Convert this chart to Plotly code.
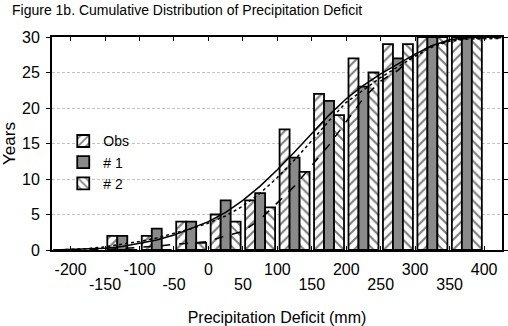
import plotly.graph_objects as go

# ---- data ----
bin_centers = [-125, -75, -25, 25, 75, 125, 175, 225, 275, 325, 375]
obs = [2, 2, 4, 5, 7, 17, 22, 27, 29, 30, 30]
sim1 = [2, 3, 4, 7, 8, 13, 21, 23, 27, 30, 30]
sim2 = [0, 0, 1, 4, 6, 11, 19, 25, 29, 30, 30]

curve_x = [-225, -200, -175, -150, -125, -100, -75, -50, -25, 0, 25, 50, 75, 100,
           125, 150, 175, 200, 225, 250, 275, 300, 325, 350, 375, 400, 425]
curve_solid = [0, 0.05, 0.1, 0.25, 0.5, 0.9, 1.4, 2.1, 3.0, 4.0, 5.3, 7.0, 9.0, 11.3,
               13.8, 16.4, 19.0, 21.3, 23.2, 24.8, 26.2, 27.6, 28.8, 29.6, 29.9, 30, 30]
curve_dot = [0, 0.1, 0.2, 0.45, 0.8, 1.2, 1.7, 2.3, 3.0, 3.8, 4.8, 6.2, 8.0, 10.2,
             12.7, 15.4, 18.2, 20.8, 22.6, 24.3, 25.8, 27.3, 28.6, 29.4, 29.7, 29.8, 29.8]
curve_dash = [0, 0, 0.05, 0.1, 0.2, 0.35, 0.55, 0.8, 1.0, 1.2, 2.0, 2.6, 4.3, 6.6,
              9.0, 11.9, 14.8, 18.1, 21.4, 23.8, 25.3, 27.6, 28.8, 29.5, 29.8, 29.9, 29.9]

major_ticks = [-200, -100, 0, 100, 200, 300, 400]
minor_ticks = [-150, -50, 50, 150, 250, 350]
all_ticks = [-200, -150, -100, -50, 0, 50, 100, 150, 200, 250, 300, 350, 400]

FONT = "Liberation Sans, Arial, sans-serif"
xr = [-227, 426]

fig = go.Figure()
fig.add_trace(go.Bar(
    x=bin_centers, y=obs, name="Obs",
    marker=dict(color="white", line=dict(color="black", width=1.8),
                pattern=dict(shape="/", fgcolor="black", bgcolor="white", size=7, solidity=0.3)),
))
fig.add_trace(go.Bar(
    x=bin_centers, y=sim1, name="# 1",
    marker=dict(color="#8a8a8a", line=dict(color="black", width=1.8)),
))
fig.add_trace(go.Bar(
    x=bin_centers, y=sim2, name="# 2",
    marker=dict(color="white", line=dict(color="black", width=1.8),
                pattern=dict(shape="\\", fgcolor="black", bgcolor="white", size=7, solidity=0.3)),
))
fig.add_trace(go.Scatter(x=curve_x, y=curve_solid, mode="lines", showlegend=False,
                         line=dict(color="black", width=1.5, dash="solid"), hoverinfo="skip"))
fig.add_trace(go.Scatter(x=curve_x, y=curve_dash, mode="lines", showlegend=False,
                         line=dict(color="black", width=1.5, dash="dash"), hoverinfo="skip"))
fig.add_trace(go.Scatter(x=curve_x, y=curve_dot, mode="lines", showlegend=False, xaxis="x2",
                         line=dict(color="black", width=1.5, dash="dot"), hoverinfo="skip"))

fig.update_layout(
    width=508, height=326,
    margin=dict(l=52, r=6, t=37, b=76, autoexpand=False),
    paper_bgcolor="white", plot_bgcolor="white",
    barmode="group", bargap=0.13, bargroupgap=0,
    font=dict(family=FONT, color="black", size=16),
    title=dict(text="Figure 1b. Cumulative Distribution of Precipitation Deficit",
               x=0.0236, xref="container", xanchor="left",
               y=0.985, yref="container", yanchor="top",
               font=dict(size=14, family=FONT)),
    legend=dict(x=0.025, y=0.585, xanchor="left", yanchor="top",
                bgcolor="rgba(0,0,0,0)", font=dict(size=14), tracegroupgap=0,
                itemwidth=30),
    xaxis=dict(range=xr, tickvals=all_ticks,
               ticktext=[str(t) if t in major_ticks else "" for t in all_ticks],
               ticks="inside", ticklen=4, tickcolor="black", mirror="ticks",
               showline=True, linecolor="black", linewidth=2, showgrid=False, zeroline=False,
               tickfont=dict(size=16), ticklabelstandoff=4, automargin=False,
               title=dict(text="Precipitation Deficit (mm)", font=dict(size=16), standoff=38)),
    xaxis2=dict(range=xr, overlaying="x", anchor="y", side="bottom",
                tickvals=minor_ticks, ticktext=[str(t) for t in minor_ticks],
                ticks="", showline=False, showgrid=False, zeroline=False, automargin=False,
                ticklabelstandoff=23, tickfont=dict(size=16)),
    yaxis=dict(range=[0, 30], tickvals=[0, 5, 10, 15, 20, 25, 30],
               ticks="outside", ticklen=4, tickcolor="black", mirror="ticks",
               showline=True, linecolor="black", linewidth=2, automargin=False,
               showgrid=True, gridcolor="#c4c4c4", griddash="3px,2px", gridwidth=1,
               zeroline=False, tickfont=dict(size=16), ticklabelstandoff=3,
               title=dict(text="Years", font=dict(size=17), standoff=6)),
)

fig.write_html("out.html", config={"displayModeBar": False},
               post_script="document.body.style.margin='0';")
